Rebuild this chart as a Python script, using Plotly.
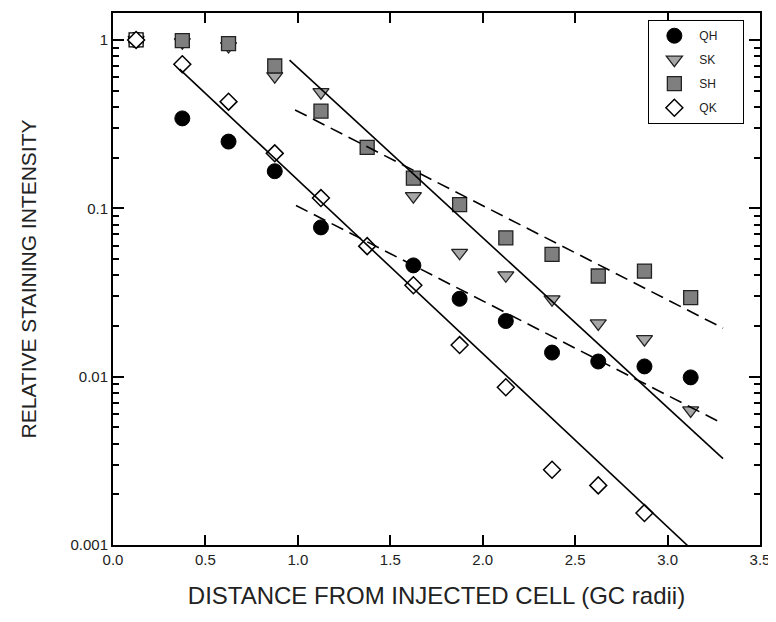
import plotly.graph_objects as go

# ---- data ----
qh_x = [0.125, 0.375, 0.625, 0.875, 1.125, 1.625, 1.875, 2.125, 2.375, 2.625, 2.875, 3.125]
qh_y = [1.0, 0.342, 0.249, 0.166, 0.077, 0.0458, 0.029, 0.0214, 0.0139, 0.0123, 0.0115, 0.0099]

sk_x = [0.125, 0.375, 0.625, 0.875, 1.125, 1.625, 1.875, 2.125, 2.375, 2.625, 2.875, 3.125]
sk_y = [1.0, 0.97, 0.92, 0.61, 0.49, 0.118, 0.0544, 0.040, 0.0288, 0.0207, 0.0167, 0.0063]

sh_x = [0.125, 0.375, 0.625, 0.875, 1.125, 1.375, 1.625, 1.875, 2.125, 2.375, 2.625, 2.875, 3.125]
sh_y = [1.0, 0.99, 0.95, 0.70, 0.378, 0.23, 0.151, 0.105, 0.0667, 0.0532, 0.0396, 0.0424, 0.0295]

qk_x = [0.125, 0.375, 0.625, 0.875, 1.125, 1.375, 1.625, 1.875, 2.125, 2.375, 2.625, 2.875]
qk_y = [1.0, 0.718, 0.43, 0.212, 0.115, 0.0596, 0.0349, 0.0154, 0.00865, 0.0028, 0.00226, 0.00155]

# regression lines (end points)
qk_fit_x = [0.36, 3.125]
qk_fit_y = [0.671, 0.000953]
sk_fit_x = [0.955, 3.30]
sk_fit_y = [0.759, 0.00326]
sh_fit_x = [0.985, 3.30]
sh_fit_y = [0.384, 0.0194]
qh_fit_x = [0.99, 3.30]
qh_fit_y = [0.104, 0.00525]

x_ticks = [0.0, 0.5, 1.0, 1.5, 2.0, 2.5, 3.0, 3.5]
y_ticks = [1, 0.1, 0.01, 0.001]
y_minor = [m * 10.0 ** e for e in (-3, -2, -1) for m in range(2, 10)]

fig = go.Figure()

# the shared starting point (all series normalised to 1) drawn white, as in the figure
for xs, ys, sym, sz in [(qh_x, qh_y, "circle", 15), (sk_x, sk_y, "triangle-down", 14), (sh_x, sh_y, "square", 14)]:
    fig.add_trace(go.Scatter(x=xs[:1], y=ys[:1], mode="markers", showlegend=False, hoverinfo="skip",
                             marker=dict(symbol=sym, size=sz, color="white", line=dict(color="black", width=1.3))))

pad = "\u00a0" * 6
fig.add_trace(go.Scatter(x=qh_x[1:], y=qh_y[1:], mode="markers", name="QH" + pad, legendgroup="a",
    marker=dict(symbol="circle", size=15, color="black", line=dict(color="black", width=1))))
fig.add_trace(go.Scatter(x=sk_x[1:], y=sk_y[1:], mode="markers", name="SK" + pad, legendgroup="b",
    marker=dict(symbol="triangle-down", size=14, color="#a6a6a6", line=dict(color="#222222", width=1.3))))
fig.add_trace(go.Scatter(x=sh_x[1:], y=sh_y[1:], mode="markers", name="SH" + pad, legendgroup="c",
    marker=dict(symbol="square", size=14, color="#7f7f7f", line=dict(color="#222222", width=1.3))))
fig.add_trace(go.Scatter(x=qk_x, y=qk_y, mode="markers", name="QK" + pad, legendgroup="d",
    marker=dict(symbol="diamond", size=13, color="white", line=dict(color="black", width=1.5))))

line_style_solid = dict(color="black", width=1.6)
line_style_dash = dict(color="black", width=1.6, dash="13px,7px")
for fx, fy, st in [(qk_fit_x, qk_fit_y, line_style_solid), (sk_fit_x, sk_fit_y, line_style_solid),
                   (sh_fit_x, sh_fit_y, line_style_dash), (qh_fit_x, qh_fit_y, line_style_dash)]:
    fig.add_trace(go.Scatter(x=fx, y=fy, mode="lines", line=st, showlegend=False, hoverinfo="skip"))

yrange = [-3, 0.16]
fig.update_layout(
    width=768, height=614,
    margin=dict(l=105, r=16, t=3, b=77),
    paper_bgcolor="white", plot_bgcolor="white",
    font=dict(family="Liberation Sans, Arial, sans-serif", size=15, color="#222222"),
    legend=dict(x=0.827, y=0.987, xanchor="left", yanchor="top",
                bordercolor="black", borderwidth=1.3, bgcolor="white",
                font=dict(size=12), itemwidth=40, tracegroupgap=5),
)
fig.update_xaxes(range=[0, 3.5], tickvals=x_ticks, tickformat=".1f",
                 ticks="inside", ticklen=10, tickwidth=2, tickcolor="black",
                 showline=True, linecolor="black", linewidth=2, mirror="ticks",
                 showgrid=False, zeroline=False,
                 title_text="DISTANCE FROM INJECTED CELL (GC radii)", title_font_size=24, title_standoff=20)
fig.update_yaxes(type="log", range=yrange, tickvals=y_ticks, tickformat="~g",
                 ticks="inside", ticklen=11, tickwidth=2, tickcolor="black",
                 minor=dict(tickvals=y_minor, ticks="inside", ticklen=6, tickwidth=1.5,
                            tickcolor="black", showgrid=False),
                 showline=True, linecolor="black", linewidth=2, mirror="ticks",
                 showgrid=False, zeroline=False,
                 title_text="RELATIVE STAINING INTENSITY", title_font_size=21, title_standoff=28)

fig.write_html("out.html")
